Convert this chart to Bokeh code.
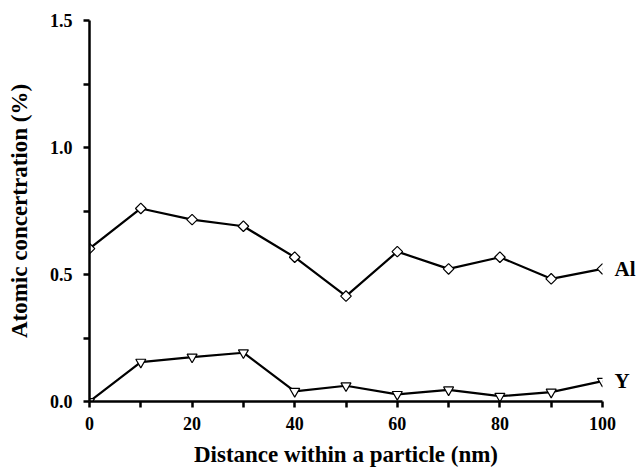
import math
from bokeh.plotting import figure
from bokeh.models import Range1d, FixedTicker, PrintfTickFormatter, LinearAxis
from bokeh.embed import file_html
from bokeh.resources import INLINE

# Concentration profiles across a particle
distance_nm = [0, 10, 20, 30, 40, 50, 60, 70, 80, 90, 100]
al_conc = [0.602, 0.760, 0.716, 0.690, 0.568, 0.415, 0.590, 0.522, 0.568, 0.483, 0.522]
y_conc = [0.0, 0.155, 0.175, 0.192, 0.040, 0.062, 0.028, 0.046, 0.021, 0.037, 0.080]
series_names = ["Al", "Y"]

x_major = [0, 20, 40, 60, 80, 100]
x_minor = [10, 30, 50, 70, 90]
y_major = [0.0, 0.5, 1.0, 1.5]
y_minor = [0.25, 0.75, 1.25]

FONT = "Liberation Serif"

p = figure(width=638, height=469, output_backend="svg", toolbar_location=None,
           x_range=Range1d(0, 100), y_range=Range1d(0, 1.5),
           min_border_left=89, min_border_right=36, min_border_top=20,
           min_border_bottom=68)
p.outline_line_color = None
p.grid.visible = False
p.background_fill_color = "white"
p.border_fill_color = "white"

for ax in (p.xaxis[0], p.yaxis[0]):
    ax.axis_line_width = 2.5
    ax.major_tick_line_width = 2.5
    ax.minor_tick_line_width = 2.5
    ax.major_tick_out = 6
    ax.major_tick_in = 0
    ax.minor_tick_out = 6
    ax.minor_tick_in = 0
    ax.major_label_text_font = FONT
    ax.major_label_text_font_style = "bold"
    ax.major_label_text_font_size = "18px"
    ax.major_label_text_color = "black"
    ax.axis_label_text_font = FONT
    ax.axis_label_text_font_style = "bold"
    ax.axis_label_text_font_size = "23px"
    ax.axis_label_text_color = "black"

p.xaxis.ticker = FixedTicker(ticks=x_major, minor_ticks=x_minor)
p.yaxis.ticker = FixedTicker(ticks=y_major, minor_ticks=y_minor)
p.yaxis.formatter = PrintfTickFormatter(format="%.1f")
p.xaxis.major_label_standoff = 9
p.yaxis.major_label_standoff = 11
p.xaxis.axis_label = "Distance within a particle (nm)"
p.yaxis.axis_label = "Atomic concertration (%)"
p.xaxis.axis_label_standoff = 9
p.yaxis.axis_label_standoff = 15

# series names on the right, level with the last point of each profile
end_values = [al_conc[-1], y_conc[-1]]
name_axis = LinearAxis(ticker=FixedTicker(ticks=end_values, minor_ticks=[]),
                       major_label_overrides=dict(zip(end_values, series_names)),
                       axis_line_color=None, major_tick_line_color=None,
                       minor_tick_line_color=None,
                       major_tick_out=0, major_tick_in=0,
                       minor_tick_out=0, minor_tick_in=0,
                       major_label_standoff=12,
                       major_label_text_font=FONT,
                       major_label_text_font_style="bold",
                       major_label_text_font_size="21px",
                       major_label_text_color="black")
p.add_layout(name_axis, "right")

p.line(distance_nm, al_conc, line_color="black", line_width=2.2)
p.scatter(distance_nm, al_conc, marker="square", angle=math.pi / 4, size=7.5,
          fill_color="white", line_color="black", line_width=1.2)

p.line(distance_nm, y_conc, line_color="black", line_width=2.2)
p.scatter(distance_nm, y_conc, marker="inverted_triangle", size=10,
          fill_color="white", line_color="black", line_width=1.2)

open("out.html", "w").write(file_html(p, INLINE))
